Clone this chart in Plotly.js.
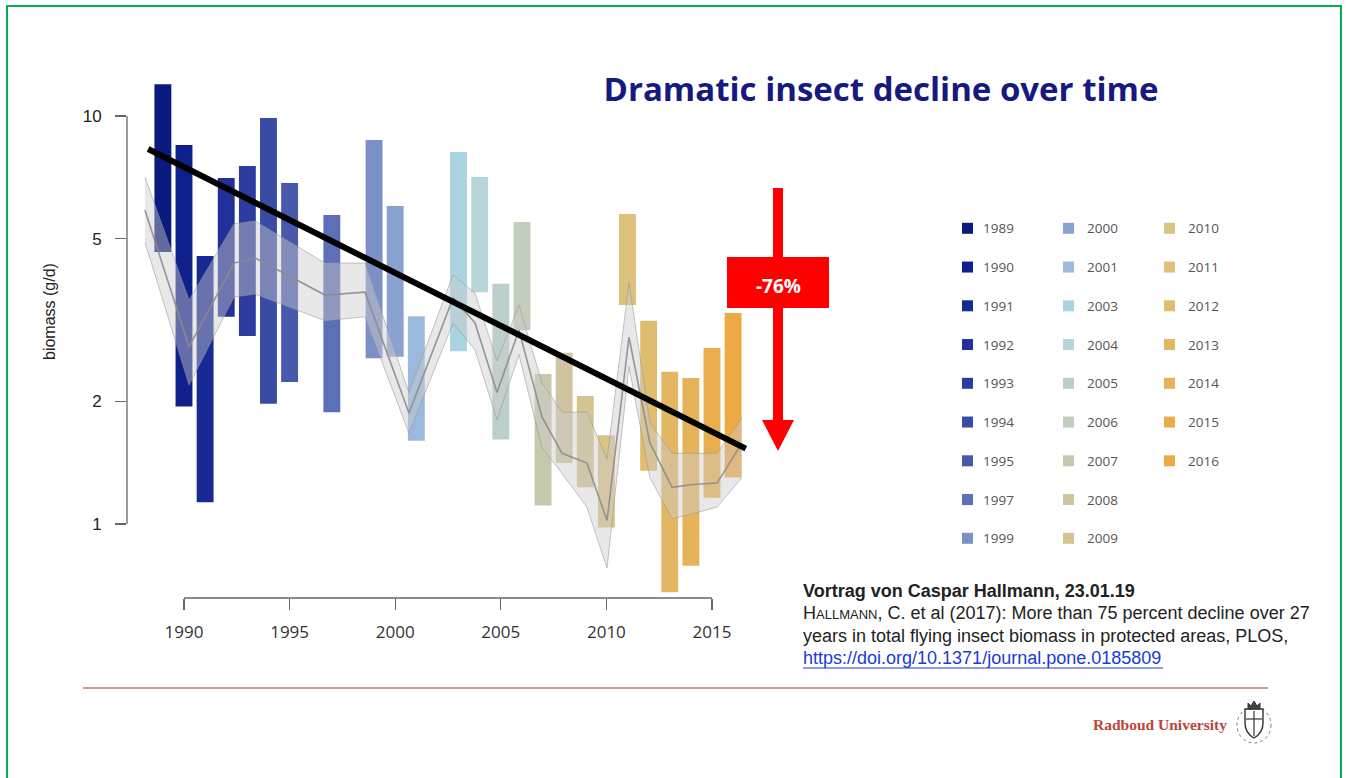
<!DOCTYPE html>
<html><head><meta charset="utf-8">
<script src="https://cdn.plot.ly/plotly-3.0.1.min.js"></script>
<style>html,body{margin:0;padding:0;background:#fff;} #chart{width:1346px;height:778px;}</style>
</head><body><div id="chart"></div>
<script>
// ---------- data ----------
const years = [1989,1990,1991,1992,1993,1994,1995,1997,1999,2000,2001,2003,2004,2005,2006,2007,2008,2009,2010,2011,2012,2013,2014,2015,2016];
const barTop = [11.97,8.49,4.54,7.05,7.54,9.89,6.85,5.72,8.73,6.02,3.23,8.16,7.09,3.88,5.50,2.33,2.63,2.06,1.65,5.75,3.15,2.36,2.28,2.70,3.29];
const barBottom = [4.64,1.94,1.13,3.22,2.89,1.97,2.23,1.88,2.55,2.57,1.60,2.65,3.70,1.61,2.99,1.11,1.41,1.23,0.98,3.44,1.35,0.68,0.79,1.16,1.30];
const yearColors = ['#0b1a7e','#0f1f8c','#172993','#22319a','#2c3d9f','#3a4ba6','#4758ad','#5d70b7','#7a90c6','#8aa2cf','#9bb9dc','#abd3e2','#b7d4d8','#bdcfcd','#c3cdbc','#c7c9ae','#cec5a0','#d4c48f','#d9c487','#dcc07c','#e0bc6e','#e3b663','#e6b359','#e8ae4e','#eca944'];
const bandYears = [1988.15,1990.24,1992.37,1993.36,1996.68,1998.57,2000.65,2002.74,2003.78,2004.82,2005.86,2006.95,2007.90,2009.08,2010.03,2011.07,2012.06,2013.11,2014.10,2015.24,2016.42];
const bandMid   = [5.88,2.72,4.36,4.49,3.64,3.70,1.87,3.58,3.11,2.10,2.99,1.83,1.49,1.41,1.02,2.87,1.58,1.23,1.25,1.26,1.58];
const bandUpper = [7.09,3.54,5.44,5.53,4.36,4.36,2.10,4.08,3.68,2.51,3.44,2.22,1.88,1.88,1.44,3.90,1.77,1.49,1.49,1.49,1.82];
const bandLower = [4.91,2.19,3.60,3.66,3.15,3.22,1.67,3.11,2.67,1.80,2.60,1.54,1.33,1.10,0.78,2.43,1.30,1.03,1.06,1.10,1.30];
const trendYears = [1988.3, 2016.6];
const trendValues = [8.3, 1.53];
const xTickVals = [1990,1995,2000,2005,2010,2015];
const yTickVals = [1,2,5,10];
const yTickText = ['1','2','5','10'];
const declineLabel = '-76%';
const chartTitle = 'Dramatic insect decline over time';
const yTitle = 'biomass (g/d)';

// ---------- geometry helpers ----------
const W = 1346, H = 778;
const PL = 127, PR = 760, PT = 80, PB = 598;
const xRange = [1987.301, 2017.273];
const yRange = [-0.18137, 1.08824];
const px = x => (x - PL) / (PR - PL);
const py = y => (PB - y) / (PB - PT);
const yPaper = v => (Math.log10(v) - yRange[0]) / (yRange[1] - yRange[0]);

// ---------- traces ----------
const traces = [];
traces.push({
  type: 'bar', x: years, base: barBottom,
  y: barTop.map((t, i) => t - barBottom[i]),
  width: 0.8, marker: {color: yearColors, line: {width: 0}},
  hoverinfo: 'x', showlegend: false
});
traces.push({
  type: 'scatter', mode: 'lines', x: bandYears, y: bandUpper,
  line: {color: 'rgba(150,150,150,0.55)', width: 1}, hoverinfo: 'skip', showlegend: false
});
traces.push({
  type: 'scatter', mode: 'lines', x: bandYears, y: bandLower, fill: 'tonexty',
  fillcolor: 'rgba(205,205,205,0.45)',
  line: {color: 'rgba(150,150,150,0.55)', width: 1}, hoverinfo: 'skip', showlegend: false
});
traces.push({
  type: 'scatter', mode: 'lines', x: bandYears, y: bandMid,
  line: {color: 'rgba(140,140,140,0.9)', width: 1.6}, hoverinfo: 'skip', showlegend: false
});
traces.push({
  type: 'scatter', mode: 'lines', x: trendYears, y: trendValues,
  line: {color: '#000', width: 6}, hoverinfo: 'skip', showlegend: false
});

// ---------- shapes / annotations ----------
const shapes = [];
const annotations = [];

// R-style axis lines
shapes.push({type:'line', xref:'paper', yref:'paper', x0:0, x1:0, y0:yPaper(1), y1:yPaper(10), line:{color:'#666', width:1.3}});
shapes.push({type:'line', xref:'x', yref:'paper', x0:xTickVals[0], x1:xTickVals[xTickVals.length-1], y0:0, y1:0, line:{color:'#666', width:1.3}});

// y-axis title (placed like the R plot)
annotations.push({xref:'paper', yref:'paper', x:px(49), y:py(312), text:yTitle, textangle:-90, showarrow:false,
  xanchor:'center', yanchor:'middle', font:{family:'Liberation Sans', size:16, color:'#222'}});

// red arrow + box
shapes.push({type:'rect', xref:'paper', yref:'paper', x0:px(773), x1:px(783), y0:py(188), y1:py(422), fillcolor:'#ff0000', line:{width:0}});
shapes.push({type:'path', xref:'paper', yref:'paper',
  path:`M ${px(762)} ${py(420)} L ${px(794)} ${py(420)} L ${px(778)} ${py(451)} Z`, fillcolor:'#ff0000', line:{width:0}});
shapes.push({type:'rect', xref:'paper', yref:'paper', x0:px(727), x1:px(829), y0:py(257), y1:py(308), fillcolor:'#ff0000', line:{width:0}});
annotations.push({xref:'paper', yref:'paper', x:px(778), y:py(286), text:'<b>'+declineLabel+'</b>', showarrow:false,
  font:{family:'Open Sans', size:19, color:'#ffffff'}, xanchor:'center', yanchor:'middle'});

// custom legend (3 columns, 9 rows)
const legSqX = [962, 1063, 1164], legLabX = [981, 1085, 1186];
years.forEach((yr, i) => {
  const col = Math.floor(i / 9), row = i % 9;
  const cy = 228.3 + row * 38.75;
  shapes.push({type:'rect', xref:'paper', yref:'paper', x0:px(legSqX[col]), x1:px(legSqX[col]+11), y0:py(cy-5.5), y1:py(cy+5.5), fillcolor:yearColors[i], line:{width:0}});
  annotations.push({xref:'paper', yref:'paper', x:px(legLabX[col]), y:py(cy), text:String(yr), showarrow:false,
    xanchor:'left', yanchor:'middle', font:{family:'Open Sans', size:13.5, color:'#555'}});
});

// citation text
const citeFont = {family:'Liberation Sans', size:18, color:'#222'};
const citeLines = [
  '<b>Vortrag von Caspar Hallmann, 23.01.19</b>',
  'H<span style="font-size:13px">ALLMANN</span>, C. et al (2017): More than 75 percent decline over 27',
  'years in total flying insect biomass in protected areas, PLOS,',
  '<span style="fill:#1a3bd6">https://doi.org/10.1371/journal.pone.0185809</span>'
];
const citeY = [591, 613, 636, 658];
citeLines.forEach((t, i) => {
  annotations.push({xref:'paper', yref:'paper', x:px(801), y:py(citeY[i]), text:t, showarrow:false,
    xanchor:'left', yanchor:'middle', align:'left', font:citeFont});
});
shapes.push({type:'line', xref:'paper', yref:'paper', x0:px(803), x1:px(1163), y0:py(668), y1:py(668), line:{color:'#1a3bd6', width:1}});

// footer line
shapes.push({type:'line', xref:'paper', yref:'paper', x0:px(83), x1:px(1268), y0:py(688), y1:py(688), line:{color:'#c97a6c', width:1.5}});

// Radboud logo
annotations.push({xref:'paper', yref:'paper', x:px(1229), y:py(724), text:'<b>Radboud University</b>', showarrow:false,
  xanchor:'right', yanchor:'middle', font:{family:'Liberation Serif', size:15.5, color:'#b8463a'}});
shapes.push({type:'circle', xref:'paper', yref:'paper', x0:px(1237), x1:px(1271), y0:py(743), y1:py(707), line:{color:'#777', width:1, dash:'dot'}});
shapes.push({type:'path', xref:'paper', yref:'paper',
  path:`M ${px(1245)} ${py(709)} L ${px(1263)} ${py(709)} L ${px(1263)} ${py(723)} Q ${px(1263)} ${py(733)} ${px(1254)} ${py(738)} Q ${px(1245)} ${py(733)} ${px(1245)} ${py(723)} Z`,
  fillcolor:'rgba(255,255,255,0)', line:{color:'#333', width:1.4}});
shapes.push({type:'line', xref:'paper', yref:'paper', x0:px(1254), x1:px(1254), y0:py(711), y1:py(736), line:{color:'#333', width:1.2}});
shapes.push({type:'line', xref:'paper', yref:'paper', x0:px(1246), x1:px(1262), y0:py(719), y1:py(719), line:{color:'#333', width:1.2}});
shapes.push({type:'path', xref:'paper', yref:'paper',
  path:`M ${px(1248)} ${py(709)} L ${px(1248)} ${py(703)} L ${px(1251)} ${py(706)} L ${px(1254)} ${py(701)} L ${px(1257)} ${py(706)} L ${px(1260)} ${py(703)} L ${px(1260)} ${py(709)} Z`,
  fillcolor:'#444', line:{color:'#333', width:1}});

// green page border
shapes.push({type:'rect', xref:'paper', yref:'paper', x0:px(7), x1:px(1341), y0:py(6), y1:py(800), line:{color:'#00b050', width:2}, fillcolor:'rgba(0,0,0,0)'});

const layout = {
  width: W, height: H,
  margin: {l: PL, r: W - PR, t: PT, b: H - PB, pad: 0},
  paper_bgcolor: '#fff', plot_bgcolor: '#fff',
  showlegend: false,
  title: {text: '<b>' + chartTitle + '</b>', xref: 'container', yref: 'container', x: 881 / W, y: 1 - 89 / H,
    xanchor: 'center', yanchor: 'middle', font: {family: 'Open Sans', size: 33, color: '#161a80'}},
  xaxis: {range: xRange, tickvals: xTickVals, ticks: 'outside', ticklen: 11, tickwidth: 1.3, tickcolor: '#666',
    showline: false, showgrid: false, zeroline: false, automargin: false, ticklabelstandoff: 8,
    tickfont: {family: 'Open Sans', size: 17, color: '#333'}},
  yaxis: {type: 'log', range: yRange, tickvals: yTickVals, ticktext: yTickText, ticks: 'outside', ticklen: 11,
    tickwidth: 1.3, tickcolor: '#666', showline: false, showgrid: false, zeroline: false, automargin: false,
    ticklabelstandoff: 10, tickfont: {family: 'Liberation Sans', size: 17, color: '#222'}},
  barmode: 'overlay',
  shapes: shapes, annotations: annotations
};

Plotly.newPlot('chart', traces, layout, {displayModeBar: false, staticPlot: true});
</script>
</body></html>
